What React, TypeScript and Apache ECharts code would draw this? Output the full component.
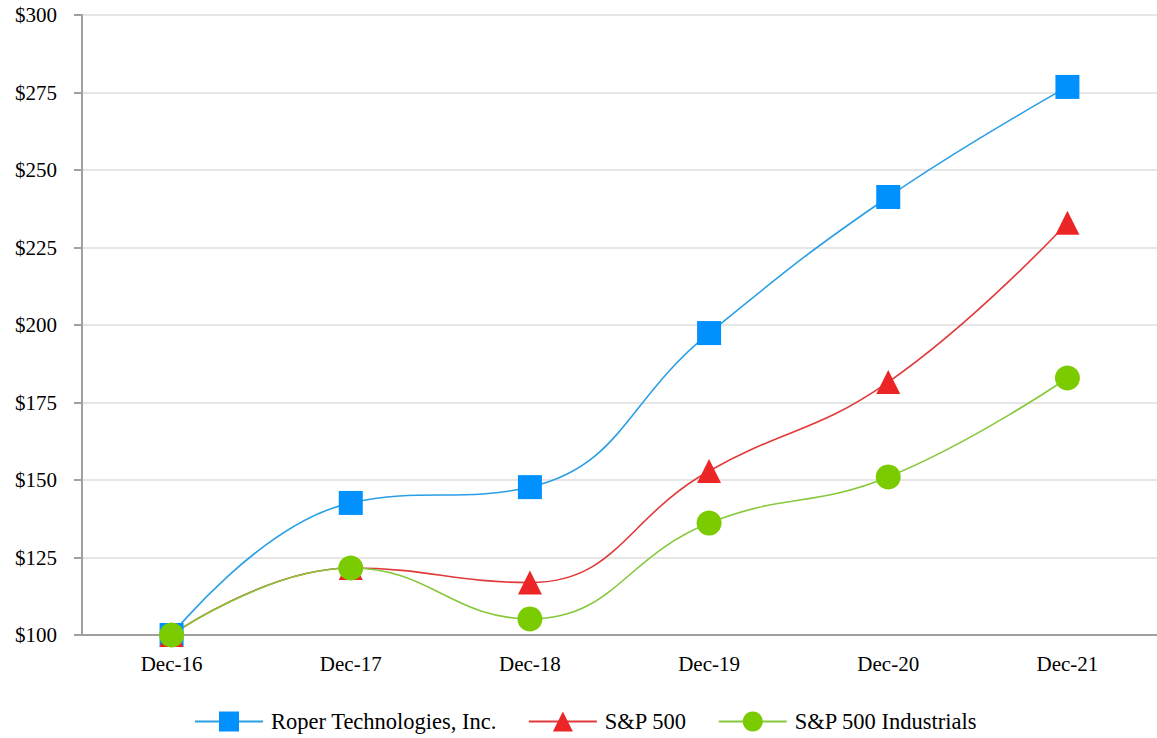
import React, { useEffect, useRef } from "react";
import * as echarts from "echarts";

const categories = ["Dec-16", "Dec-17", "Dec-18", "Dec-19", "Dec-20", "Dec-21"];
const roperValues = [100, 142.6, 147.7, 197.4, 241.3, 276.8];
const sp500Values = [100, 121.6, 116.9, 152.9, 181.6, 233.0];
const industrialsValues = [100, 121.6, 105.2, 136.1, 151.0, 182.9];
const seriesNames = ["Roper Technologies, Inc.", "S&P 500", "S&P 500 Industrials"];

const FONT = "Liberation Serif";

export default function App() {
  const ref = useRef<HTMLDivElement>(null);
  useEffect(() => {
    if (!ref.current) return;
    const chart = echarts.init(ref.current, undefined, { renderer: "svg" });
    const mk = (name: string, data: number[], color: string, lineColor: string, symbol: string, size: number) => ({
      name,
      type: "line",
      data,
      smooth: 0.45,
      symbol,
      symbolSize: size,
      showAllSymbol: true,
      lineStyle: { color: lineColor, width: 1.6 },
      itemStyle: { color, borderWidth: 0 },
      emphasis: { disabled: true },
    });
    chart.setOption({
      animation: false,
      textStyle: { fontFamily: FONT },
      grid: { left: 82, right: 0, top: 15, bottom: 103, containLabel: false },
      legend: {
        top: 705,
        left: 189,
        itemWidth: 68,
        itemHeight: 25,
        itemGap: 31,
        textStyle: { fontFamily: FONT, fontSize: 22.5, color: "#000", padding: [0, 0, 0, 3] },
        data: seriesNames,
      },
      xAxis: {
        type: "category",
        data: categories,
        boundaryGap: true,
        axisLine: { lineStyle: { color: "#a0a0a0", width: 2 } },
        axisTick: { alignWithLabel: true, length: 8, lineStyle: { color: "#a0a0a0", width: 2 } },
        axisLabel: { color: "#000", fontFamily: FONT, fontSize: 21, margin: 18 },
        splitLine: { show: false },
      },
      yAxis: {
        type: "value",
        min: 100,
        max: 300,
        interval: 25,
        axisLine: { show: true, lineStyle: { color: "#a0a0a0", width: 2 } },
        axisTick: { show: true, length: 8, lineStyle: { color: "#a0a0a0", width: 2 } },
        axisLabel: { color: "#000", fontFamily: FONT, fontSize: 21, margin: 25, formatter: (v: number) => "$" + v },
        splitLine: { lineStyle: { color: "#e6e6e6", width: 2 } },
      },
      series: [
        mk(seriesNames[0], roperValues, "#0091FF", "#2A9FE6", "rect", 24),
        mk(seriesNames[1], sp500Values, "#EC2626", "#E03A3A", "triangle", 24),
        mk(seriesNames[2], industrialsValues, "#7ACC00", "#85C93A", "circle", 25),
      ],
    });
    return () => chart.dispose();
  }, []);
  return (
    <div
      ref={ref}
      style={{ position: "fixed", left: 0, top: 0, width: 1157, height: 738, background: "#fff" }}
    />
  );
}
